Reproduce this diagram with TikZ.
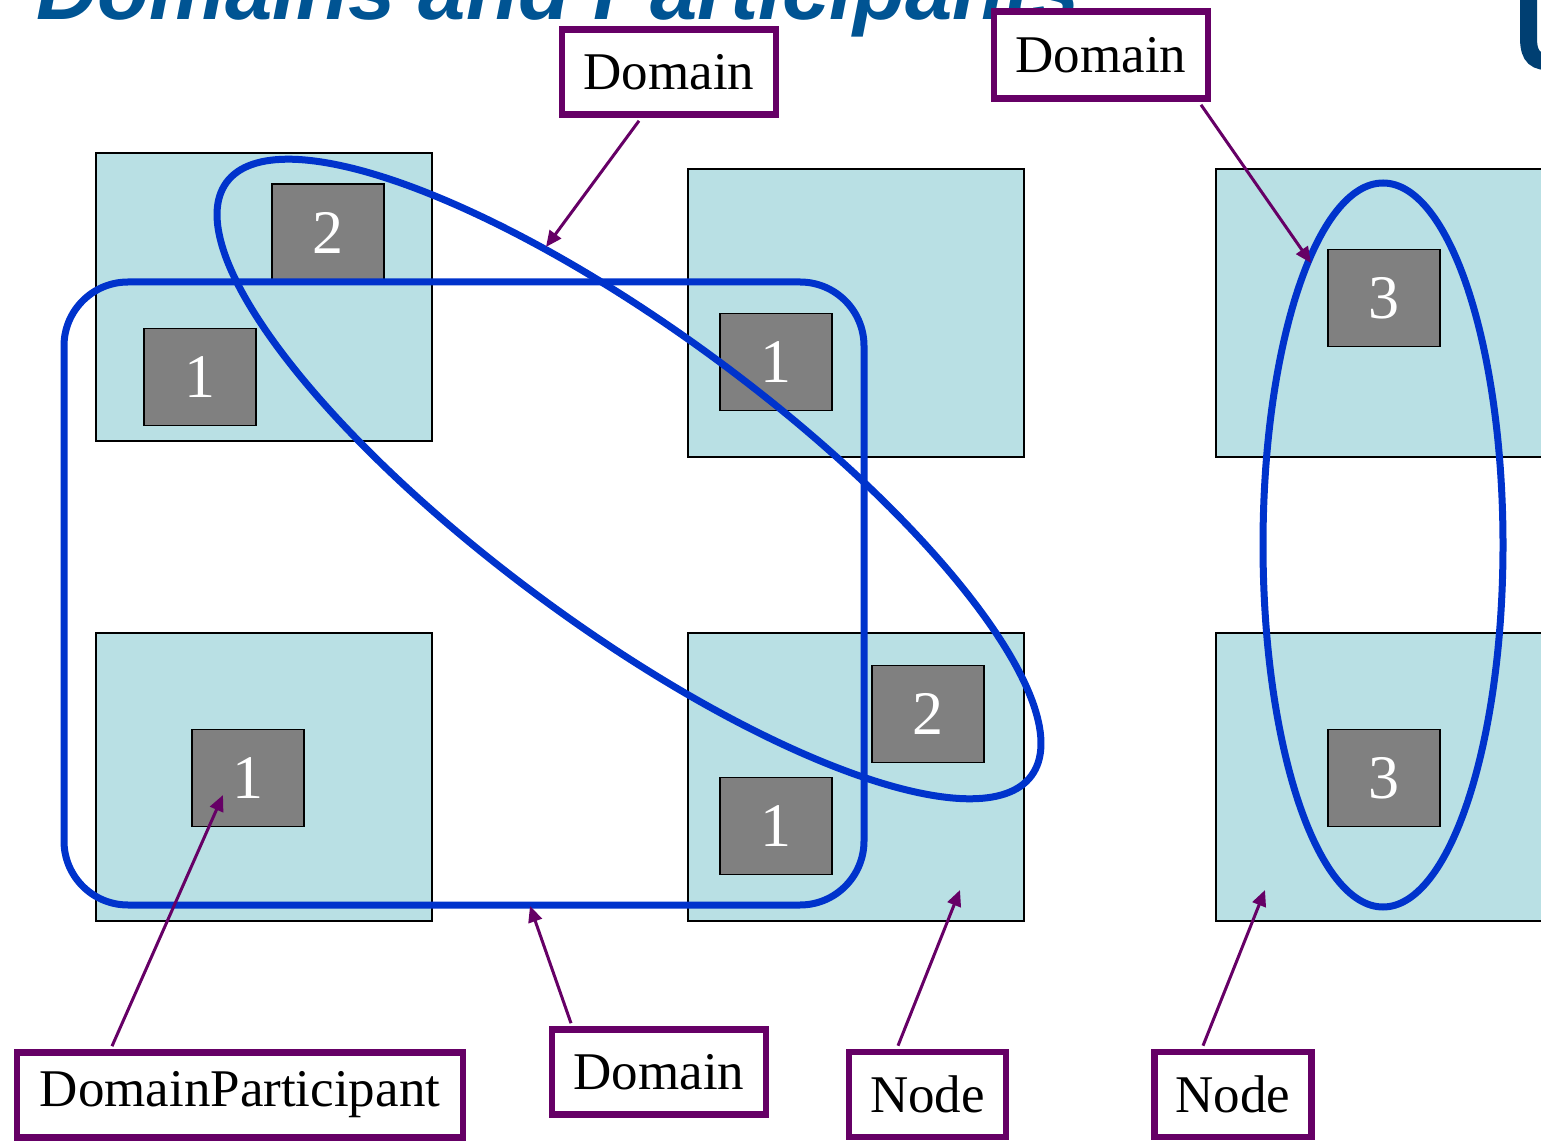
\documentclass[tikz,border=0pt]{standalone}
\usepackage{fontspec}
\setmainfont{Liberation Serif}
\newfontfamily\titlefont{Liberation Sans}
\usetikzlibrary{arrows.meta}
\definecolor{nodecyan}{RGB}{185,224,228}
\definecolor{partgrey}{RGB}{128,128,128}
\definecolor{domblue}{RGB}{0,51,204}
\definecolor{labpurple}{RGB}{102,0,102}
\definecolor{titleblue}{RGB}{0,84,147}
\definecolor{logoblue}{RGB}{0,63,114}
\tikzset{
  hostnode/.style={draw=black, line width=0.6pt, fill=nodecyan, minimum width=168pt, minimum height=144pt, inner sep=0pt},
  partbox/.style={draw=black, line width=0.8pt, fill=partgrey, minimum width=56pt, minimum height=48.5pt, inner sep=0pt, text=white, font=\fontsize{31}{31}\selectfont},
  domline/.style={draw=domblue, line width=3.5pt},
  labelbox/.style={draw=labpurple, line width=3.3pt, fill=white, minimum height=42.5pt, inner sep=0pt, font=\fontsize{26.5}{26.5}\selectfont},
  pointer/.style={draw=labpurple, line width=1.5pt, -{Triangle[length=8pt,width=7pt]}}
}
\begin{document}
\begin{tikzpicture}[x=0.5pt,y=-0.5pt]
\useasboundingbox (0,0) rectangle (1541,1143);
\clip (0,0) rectangle (1541,1143);
% title (cut off at top)
\node[anchor=base west, inner sep=0pt, text=titleblue, font=\titlefont\fontsize{42.5}{42.5}\selectfont\bfseries\itshape] (title) at (36,20) {Domains and Participants};
% logo fragment
\draw[logoblue, line width=8.5pt] (1528.5,-10) -- (1528.5,38) .. controls (1528.5,58) and (1536,62) .. (1552,62);
% host nodes
\node[hostnode] (hA) at (264,297) {};
\node[hostnode] (hB) at (856,313) {};
\node[hostnode] (hC) at (1384,313) {};
\node[hostnode] (hD) at (264,777) {};
\node[hostnode] (hE) at (856,777) {};
\node[hostnode] (hF) at (1384,777) {};
% participants
\node[partbox] (pA2) at (328,232.5) {2};
\node[partbox] (pA1) at (200,377) {1};
\node[partbox] (pB1) at (776,362) {1};
\node[partbox] (pC3) at (1384,298) {3};
\node[partbox] (pD1) at (248,778) {1};
\node[partbox] (pE2) at (928,714) {2};
\node[partbox] (pE1) at (776,826) {1};
\node[partbox] (pF3) at (1384,778) {3};
% domains
\draw[domline, rounded corners=32pt] (64,282) rectangle (864,905);
\draw[domline, rotate around={-36.4:(629,479)}] (629,479) ellipse [x radius=250pt, y radius=74pt];
\draw[domline] (1383,545) ellipse [x radius=60pt, y radius=181pt];
% labels
\node[labelbox, minimum width=107pt] (dom1) at (669,72) {Domain};
\node[labelbox, minimum width=107pt, minimum height=43.5pt] (dom2) at (1101,55) {Domain};
\node[labelbox, minimum width=223pt] (dp) at (240,1095) {DomainParticipant};
\node[labelbox, minimum width=107pt] (dom3) at (659,1072) {Domain};
\node[labelbox, minimum width=78.5pt] (nd1) at (927.5,1094.5) {Node};
\node[labelbox, minimum width=78.5pt] (nd2) at (1233,1094.5) {Node};
% pointer targets
\coordinate (t1) at (546,247);
\coordinate (t2) at (1311,263);
\coordinate (t3) at (223,795);
\coordinate (t4) at (530,906);
\coordinate (t5) at (960,890);
\coordinate (t6) at (1265,890);
% pointers
\draw[pointer] ([xshift=-15pt,yshift=-1.5pt]dom1.south) -- (t1);
\draw[pointer] ([xshift=50pt,yshift=-1.5pt]dom2.south) -- (t2);
\draw[pointer] ([xshift=-64pt,yshift=1.5pt]dp.north) -- (t3);
\draw[pointer] ([xshift=-44pt,yshift=1.5pt]dom3.north) -- (t4);
\draw[pointer] ([xshift=-14.75pt,yshift=1.5pt]nd1.north) -- (t5);
\draw[pointer] ([xshift=-15pt,yshift=1.5pt]nd2.north) -- (t6);
\end{tikzpicture}
\end{document}
